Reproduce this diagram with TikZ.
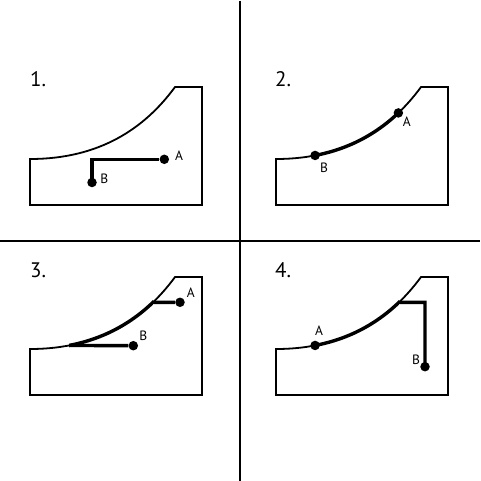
\documentclass[tikz,border=0pt]{standalone}
\usepackage{fontspec}
\setmainfont{PT Sans}
\newcommand\slopeshape{\draw[outline] (30,159) -- (30,205) -- (202,205) -- (202,87) -- (175,87) .. controls (145,128) and (100,159) .. (30,159) -- cycle;}
\newcommand\curvepts[1]{\path (30,159) .. controls (100,159) and (145,128) .. (175,87) coordinate[pos=0.2] (#1b) coordinate[pos=0.775] (#1a) coordinate[pos=0.78] (#1c);}
\newcommand\thickarc{\begin{scope}\clip (69.1,0) rectangle (152.9,300);\draw[route] (30,159) .. controls (100,159) and (145,128) .. (175,87);\end{scope}}
\begin{document}
\begin{tikzpicture}[x=1pt,y=-1pt,
  outline/.style={line width=1.8pt, line join=miter},
  route/.style={line width=3.4pt, line join=miter},
  divider/.style={line width=2pt},
  dot/.style={circle, fill=black, inner sep=0pt, minimum size=9.5pt},
  lbl/.style={font=\fontsize{13.5}{15}\selectfont, inner sep=0pt},
  num/.style={font=\fontsize{21}{24}\selectfont, inner sep=0pt, anchor=base west}]
\useasboundingbox (0,0) rectangle (480,481);
% dividers
\coordinate (vt) at (240,1); \coordinate (vb) at (240,481);
\coordinate (hl) at (0,241); \coordinate (hr) at (480,241);
\draw[divider] (vt) -- (vb);
\draw[divider] (hl) -- (hr);
% 1
\begin{scope}
  \node[num] (n1) at (30,87) {1.};
  \slopeshape
  \node[dot] (B1) at (92,182.5) {};
  \node[dot] (A1) at (164.3,159.3) {};
  \coordinate (K1) at (92,159.3);
  \draw[route] (B1.center) -- (K1) -- (A1);
  \node[lbl] (lA1) at (179,156) {A};
  \node[lbl] (lB1) at (104.3,178.3) {B};
\end{scope}
% 2
\begin{scope}[shift={(246,0)}]
  \node[num] (n2) at (29,87) {2.};
  \slopeshape
  \curvepts{q2}
  \thickarc
  \node[dot] (B2) at (q2b) {};
  \node[dot] (A2) at (q2a) {};
  \node[lbl] (lA2) at (160.7,121.7) {A};
  \node[lbl] (lB2) at (78,167.3) {B};
\end{scope}
% 3
\begin{scope}[shift={(0,190)}]
  \node[num] (n3) at (30,87) {3.};
  \slopeshape
  \curvepts{q3}
  \thickarc
  \node[dot] (A3) at (180,112.3) {};
  \node[dot] (B3) at (133.3,155.7) {};
  \draw[route] (q3c) -- (A3);
  \draw[route] (q3b) -- (B3);
  \node[lbl] (lA3) at (190.7,102.3) {A};
  \node[lbl] (lB3) at (143.3,146) {B};
\end{scope}
% 4
\begin{scope}[shift={(246,190)}]
  \node[num] (n4) at (29,87) {4.};
  \slopeshape
  \curvepts{q4}
  \thickarc
  \node[dot] (A4) at (q4b) {};
  \node[dot] (B4) at (179,176.7) {};
  \coordinate (K4) at (179,112.4);
  \draw[route] (q4c) -- (K4) -- (B4.center);
  \node[lbl] (lA4) at (73,140.7) {A};
  \node[lbl] (lB4) at (170,170) {B};
\end{scope}
\end{tikzpicture}
\end{document}
